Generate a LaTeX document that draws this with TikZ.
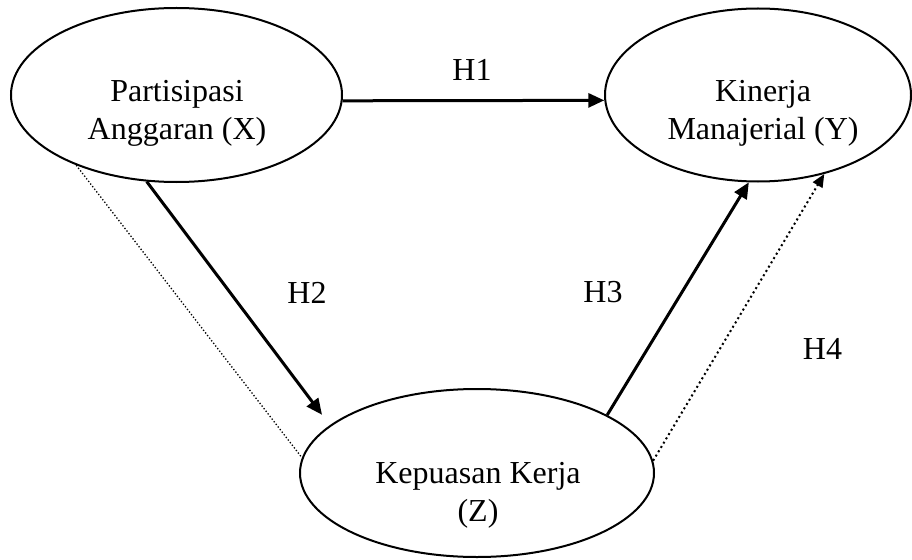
\documentclass[tikz,border=0pt]{standalone}
\usepackage{fontspec}
\setmainfont{Liberation Serif}
\usetikzlibrary{shapes.geometric,arrows.meta}
\begin{document}
\begin{tikzpicture}[x=1pt,y=-1pt,
  var/.style={ellipse,draw,line width=2pt,inner sep=0pt},
  txt/.style={font=\fontsize{32}{38}\selectfont,align=center,inner sep=0pt},
  hyp/.style={font=\fontsize{32}{38}\selectfont,inner sep=0pt},
  solidarrow/.style={line width=3pt,-{Triangle[length=16pt,width=14pt]}},
  dotarrow/.style={line width=2pt,dash pattern=on 2pt off 3pt,-{Triangle[length=13pt,width=11pt]}},
  dotline/.style={line width=1.3pt,dash pattern=on 1.3pt off 2pt}]
\useasboundingbox (0,0) rectangle (912,559);
% variables
\node[var,minimum width=331pt,minimum height=174pt] (X) at (176.5,95) {};
\node[var,minimum width=306pt,minimum height=173pt] (Y) at (758,95) {};
\node[var,minimum width=354pt,minimum height=168pt] (Z) at (477,473) {};
% texts
\node[txt] (Xt) at (177,113.5) {Partisipasi\\Anggaran (X)};
\node[txt] (Yt) at (763,113.5) {Kinerja\\Manajerial (Y)};
\node[txt] (Zt) at (478,495.3) {Kepuasan Kerja\\(Z)};
% connectors
\draw[solidarrow] (X.-2.1) -- (Y.182.2);
\draw[solidarrow,shorten >=13pt] (X.251.1) -- (Z.162);
\draw[solidarrow] (Z.24.2) -- (Y.264.7);
\draw[dotarrow] (Z.4.2) -- (Y.310.3);
\draw[dotline] (X.215.4) -- (Z.175.1);
% labels
\node[hyp] (H1) at (472,70) {H1};
\node[hyp] (H2) at (307,293) {H2};
\node[hyp] (H3) at (603,292.5) {H3};
\node[hyp] (H4) at (822.5,349) {H4};
\end{tikzpicture}
\end{document}
